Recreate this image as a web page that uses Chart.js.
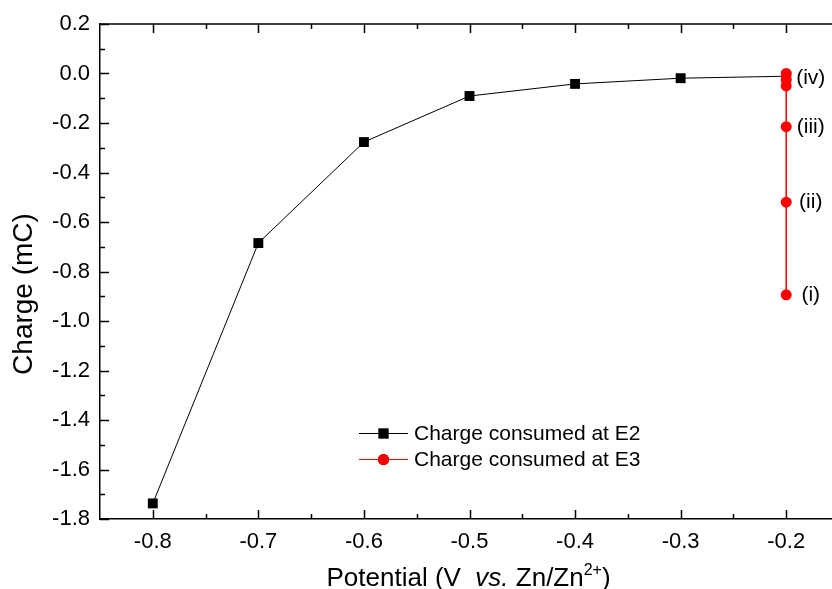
<!DOCTYPE html>
<html><head><meta charset="utf-8">
<script src="https://cdn.jsdelivr.net/npm/chart.js@4/dist/chart.umd.min.js"></script>
<style>
html,body{margin:0;padding:0;background:#fff;overflow:hidden}
#wrap{width:832px;height:589px;overflow:hidden;position:relative;background:#fff}
#c{position:absolute;left:0;top:0}
</style></head><body>
<div id="wrap"><canvas id="c" width="846" height="589"></canvas></div>
<script>
// ---- data ----
const potentialsE2 = [-0.8, -0.7, -0.6, -0.5, -0.4, -0.3, -0.2];
const chargeE2 = [-1.737, -0.685, -0.277, -0.091, -0.042, -0.019, -0.011];
const potentialsE3 = [-0.2, -0.2, -0.2, -0.2, -0.2, -0.2];
const chargeE3 = [-0.894, -0.52, -0.215, -0.05, -0.025, 0.0];
const pointLabels = ['(i)', '(ii)', '(iii)', '(iv)'];
const pointLabelValues = [-0.894, -0.52, -0.215, -0.02];
const seriesNames = ['Charge consumed at E2', 'Charge consumed at E3'];
const xTicks = [-0.8, -0.7, -0.6, -0.5, -0.4, -0.3, -0.2];
const xMinorTicks = [-0.75, -0.65, -0.55, -0.45, -0.35, -0.25, -0.15];
const yTicks = [0.2, 0.0, -0.2, -0.4, -0.6, -0.8, -1.0, -1.2, -1.4, -1.6, -1.8];
const yMinorTicks = [0.1, -0.1, -0.3, -0.5, -0.7, -0.9, -1.1, -1.3, -1.5, -1.7];
const yTitle = 'Charge (mC)';

const FONT = '"Liberation Sans", Arial, sans-serif';

const decor = {
  id: 'decor',
  afterDatasetsDraw(chart) {
    const ctx = chart.ctx, xs = chart.scales.x, ys = chart.scales.y, a = chart.chartArea;
    ctx.save();
    ctx.strokeStyle = '#000';
    ctx.lineWidth = 1.5;
    ctx.beginPath(); ctx.moveTo(a.left, a.top); ctx.lineTo(a.right, a.top); ctx.stroke();
    const tk = (list, len) => {
      list.forEach(v => {
        const px = Math.round(xs.getPixelForValue(v)) + 0.5;
        ctx.beginPath(); ctx.moveTo(px, a.bottom); ctx.lineTo(px, a.bottom - len); ctx.stroke();
        ctx.beginPath(); ctx.moveTo(px, a.top); ctx.lineTo(px, a.top + len); ctx.stroke();
      });
    };
    tk(xTicks, 9); tk(xMinorTicks, 5);
    const ty = (list, len) => {
      list.forEach(v => {
        const py = Math.round(ys.getPixelForValue(v)) + 0.5;
        ctx.beginPath(); ctx.moveTo(a.left, py); ctx.lineTo(a.left + len, py); ctx.stroke();
      });
    };
    ty(yTicks, 9); ty(yMinorTicks, 5);
    ctx.restore();
  },
  afterDraw(chart) {
    const ctx = chart.ctx, xs = chart.scales.x, ys = chart.scales.y;
    ctx.save();
    ctx.fillStyle = '#000';
    // point labels
    ctx.font = '21px ' + FONT;
    ctx.textAlign = 'center'; ctx.textBaseline = 'middle';
    const lx = xs.getPixelForValue(potentialsE3[0]) + 24.5;
    pointLabels.forEach((t, i) => {
      ctx.fillText(t, lx, ys.getPixelForValue(pointLabelValues[i]));
    });
    // y title
    ctx.save();
    ctx.translate(24, 294);
    ctx.rotate(-Math.PI / 2);
    ctx.font = '28px ' + FONT;
    ctx.textAlign = 'center'; ctx.textBaseline = 'middle';
    ctx.fillText(yTitle, 0, 0);
    ctx.restore();
    // x title with italic and superscript
    ctx.textAlign = 'left'; ctx.textBaseline = 'alphabetic';
    const parts = [
      ['Potential (V  ', '26px ' + FONT, 0],
      ['vs.', 'italic 26px ' + FONT, 0],
      [' Zn/Zn', '26px ' + FONT, 0],
      ['2+', '16px ' + FONT, -11],
      [')', '26px ' + FONT, 0]
    ];
    let x = 326.5; const base = 586;
    parts.forEach(p => {
      ctx.font = p[1];
      ctx.fillText(p[0], x, base + p[2]);
      x += ctx.measureText(p[0]).width;
    });
    // legend
    const ds = chart.data.datasets;
    const rows = [433, 459];
    ds.forEach((d, i) => {
      const y = rows[i];
      ctx.strokeStyle = d.borderColor; ctx.lineWidth = 1;
      ctx.beginPath(); ctx.moveTo(359, y + 0.5); ctx.lineTo(408, y + 0.5); ctx.stroke();
      Chart.helpers.drawPoint(ctx, {pointStyle: d.pointStyle, radius: d.pointRadius, borderWidth: 0}, 383.5, y + 0.5);
      ctx.fillStyle = d.pointBackgroundColor;
      ctx.fill();
      ctx.fillStyle = '#000';
      ctx.font = '21px ' + FONT;
      ctx.textBaseline = 'middle';
      ctx.fillText(seriesNames[i], 414, y + 1);
    });
    ctx.restore();
  }
};

new Chart(document.getElementById('c'), {
  type: 'scatter',
  data: {
    datasets: [
      {
        label: seriesNames[0],
        data: potentialsE2.map((x, i) => ({x, y: chargeE2[i]})),
        showLine: true,
        borderColor: '#000', borderWidth: 1,
        pointStyle: 'rect', pointRadius: 7,
        pointBackgroundColor: '#000', pointBorderWidth: 0,
        order: 2
      },
      {
        label: seriesNames[1],
        data: potentialsE3.map((x, i) => ({x, y: chargeE3[i]})),
        showLine: true,
        borderColor: '#ff0000', borderWidth: 1.5,
        pointStyle: 'circle', pointRadius: 5.5,
        pointBackgroundColor: '#ff0000', pointBorderWidth: 0,
        order: 1
      }
    ]
  },
  options: {
    responsive: false, animation: false, devicePixelRatio: 1,
    layout: {padding: {top: 24, right: 1, left: 0, bottom: 0}},
    plugins: {legend: {display: false}, tooltip: {enabled: false}},
    scales: {
      x: {
        type: 'linear', min: -0.85, max: -0.15,
        afterBuildTicks: s => { s.ticks = xTicks.map(v => ({value: v})); },
        afterFit: s => { s.height = 70; },
        ticks: {callback: v => v.toFixed(1), font: {family: FONT, size: 22}, color: '#000', padding: 10, maxRotation: 0, autoSkip: false},
        grid: {display: false, drawTicks: false},
        border: {display: true, color: '#000', width: 1.5}
      },
      y: {
        type: 'linear', min: -1.8, max: 0.2,
        afterBuildTicks: s => { s.ticks = yTicks.map(v => ({value: v})); },
        afterFit: s => { s.width = 100; },
        ticks: {callback: v => v.toFixed(1), font: {family: FONT, size: 22}, color: '#000', padding: 10, autoSkip: false},
        grid: {display: false, drawTicks: false},
        border: {display: true, color: '#000', width: 1.5}
      }
    }
  },
  plugins: [decor]
});
</script>
</body></html>
